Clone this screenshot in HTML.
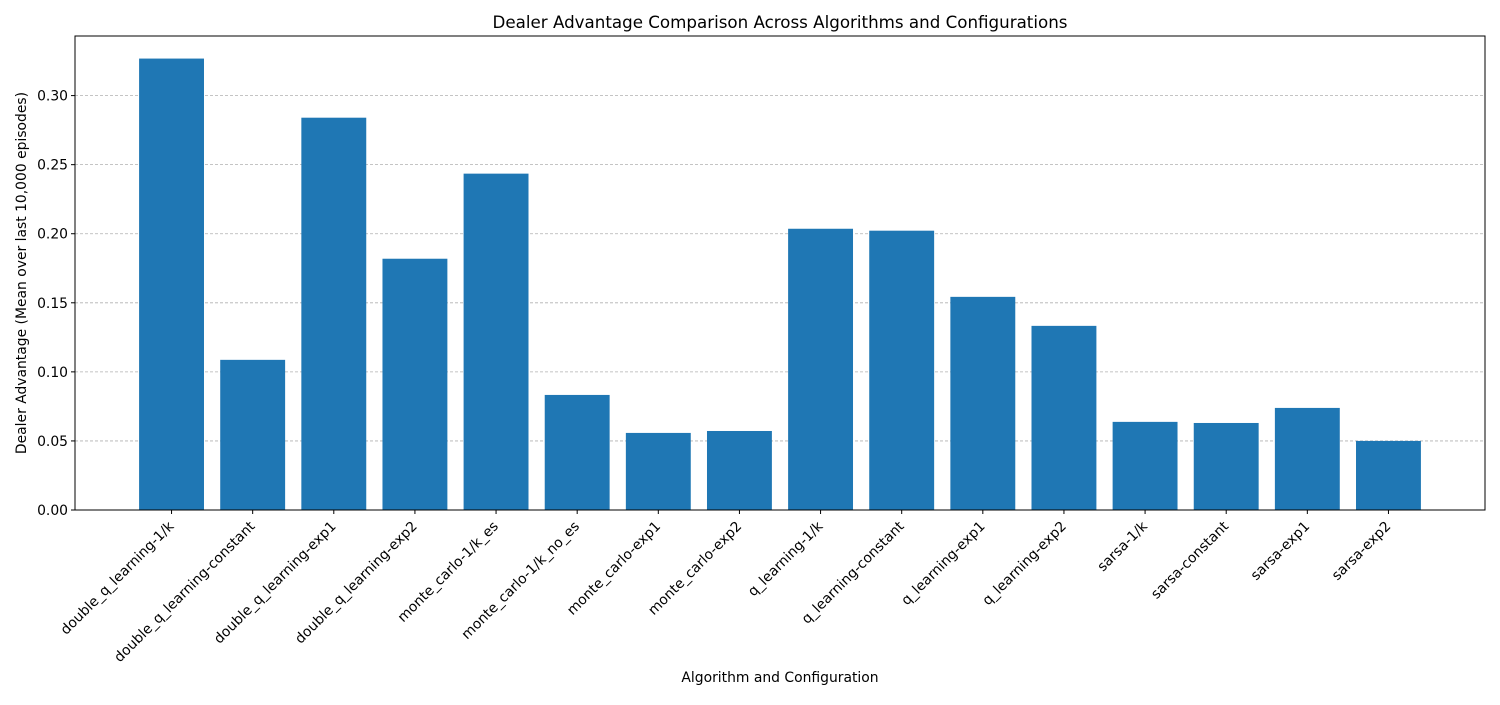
<!DOCTYPE html>
<html><head><meta charset="utf-8"><style>
body{margin:0;background:#fff;font-family:"Liberation Sans","DejaVu Sans",sans-serif;}
svg text{font-family:"DejaVu Sans","Liberation Sans",sans-serif;}
</style></head><body>
<svg id="chart" width="1500" height="700"></svg>
<script>
const categories=["double_q_learning-1/k","double_q_learning-constant","double_q_learning-exp1","double_q_learning-exp2","monte_carlo-1/k_es","monte_carlo-1/k_no_es","monte_carlo-exp1","monte_carlo-exp2","q_learning-1/k","q_learning-constant","q_learning-exp1","q_learning-exp2","sarsa-1/k","sarsa-constant","sarsa-exp1","sarsa-exp2"];
const values=[0.3268,0.1087,0.284,0.1819,0.2435,0.0833,0.0558,0.0572,0.2036,0.2022,0.1543,0.1333,0.0638,0.063,0.0739,0.0500];
const yTicks=[0,0.05,0.10,0.15,0.20,0.25,0.30];
const yTickLabels=["0.00","0.05","0.10","0.15","0.20","0.25","0.30"];

const NS="http://www.w3.org/2000/svg";
const svg=document.getElementById('chart');
const L=75,R=1485,T=36,B=510;
const FS=13.9;
const n=categories.length;
const xmin=-0.4-0.05*(n-1+0.8),xmax=n-1+0.4+0.05*(n-1+0.8);
const ymax=Math.max(...values)*1.05;
const xs=v=>L+(v-xmin)/(xmax-xmin)*(R-L);
const ys=v=>B-v/ymax*(B-T);
function mk(tag,attrs,parent){const e=document.createElementNS(NS,tag);for(const k in attrs)e.setAttribute(k,attrs[k]);(parent||svg).appendChild(e);return e;}

yTicks.forEach((t,i)=>{
  const y=ys(t);
  const g=mk('line',{x1:L,x2:R,y1:y,y2:y,stroke:'#b0b0b0','stroke-dasharray':'3,2','stroke-width':0.8});
  
  
  const tk=mk('line',{x1:L-4,x2:L,y1:y,y2:y,stroke:'#000'});
  
  
  const tx=mk('text',{x:L-7,y:y+5,'text-anchor':'end','font-size':FS});
  tx.textContent=yTickLabels[i];
  
  
});

categories.forEach((c,i)=>{
  const x0=xs(i-0.4),x1=xs(i+0.4);
  const b=mk('rect',{x:x0,y:ys(values[i]),width:x1-x0,height:B-ys(values[i]),fill:'#1f77b4'});
  
  
  const cx=xs(i);
  const tk=mk('line',{x1:cx,x2:cx,y1:B,y2:B+4,stroke:'#000'});
  
  
  const ax=cx+3,ay=B+17;
  const tx=mk('text',{x:ax,y:ay,'text-anchor':'end','font-size':FS,transform:`rotate(-45 ${ax} ${ay})`});
  tx.textContent=c;
  
  
});

const frame=mk('rect',{x:L,y:T,width:R-L,height:B-T,fill:'none',stroke:'#000','stroke-width':1});



const title=mk('text',{x:(L+R)/2,y:28,'text-anchor':'middle','font-size':16.7});
title.textContent='Dealer Advantage Comparison Across Algorithms and Configurations';



const xl=mk('text',{x:(L+R)/2,y:682,'text-anchor':'middle','font-size':FS});
xl.textContent='Algorithm and Configuration';



const yl=mk('text',{x:26,y:(T+B)/2,'text-anchor':'middle','font-size':FS,transform:`rotate(-90 26 ${(T+B)/2})`});
yl.textContent='Dealer Advantage (Mean over last 10,000 episodes)';


</script>
</body></html>
